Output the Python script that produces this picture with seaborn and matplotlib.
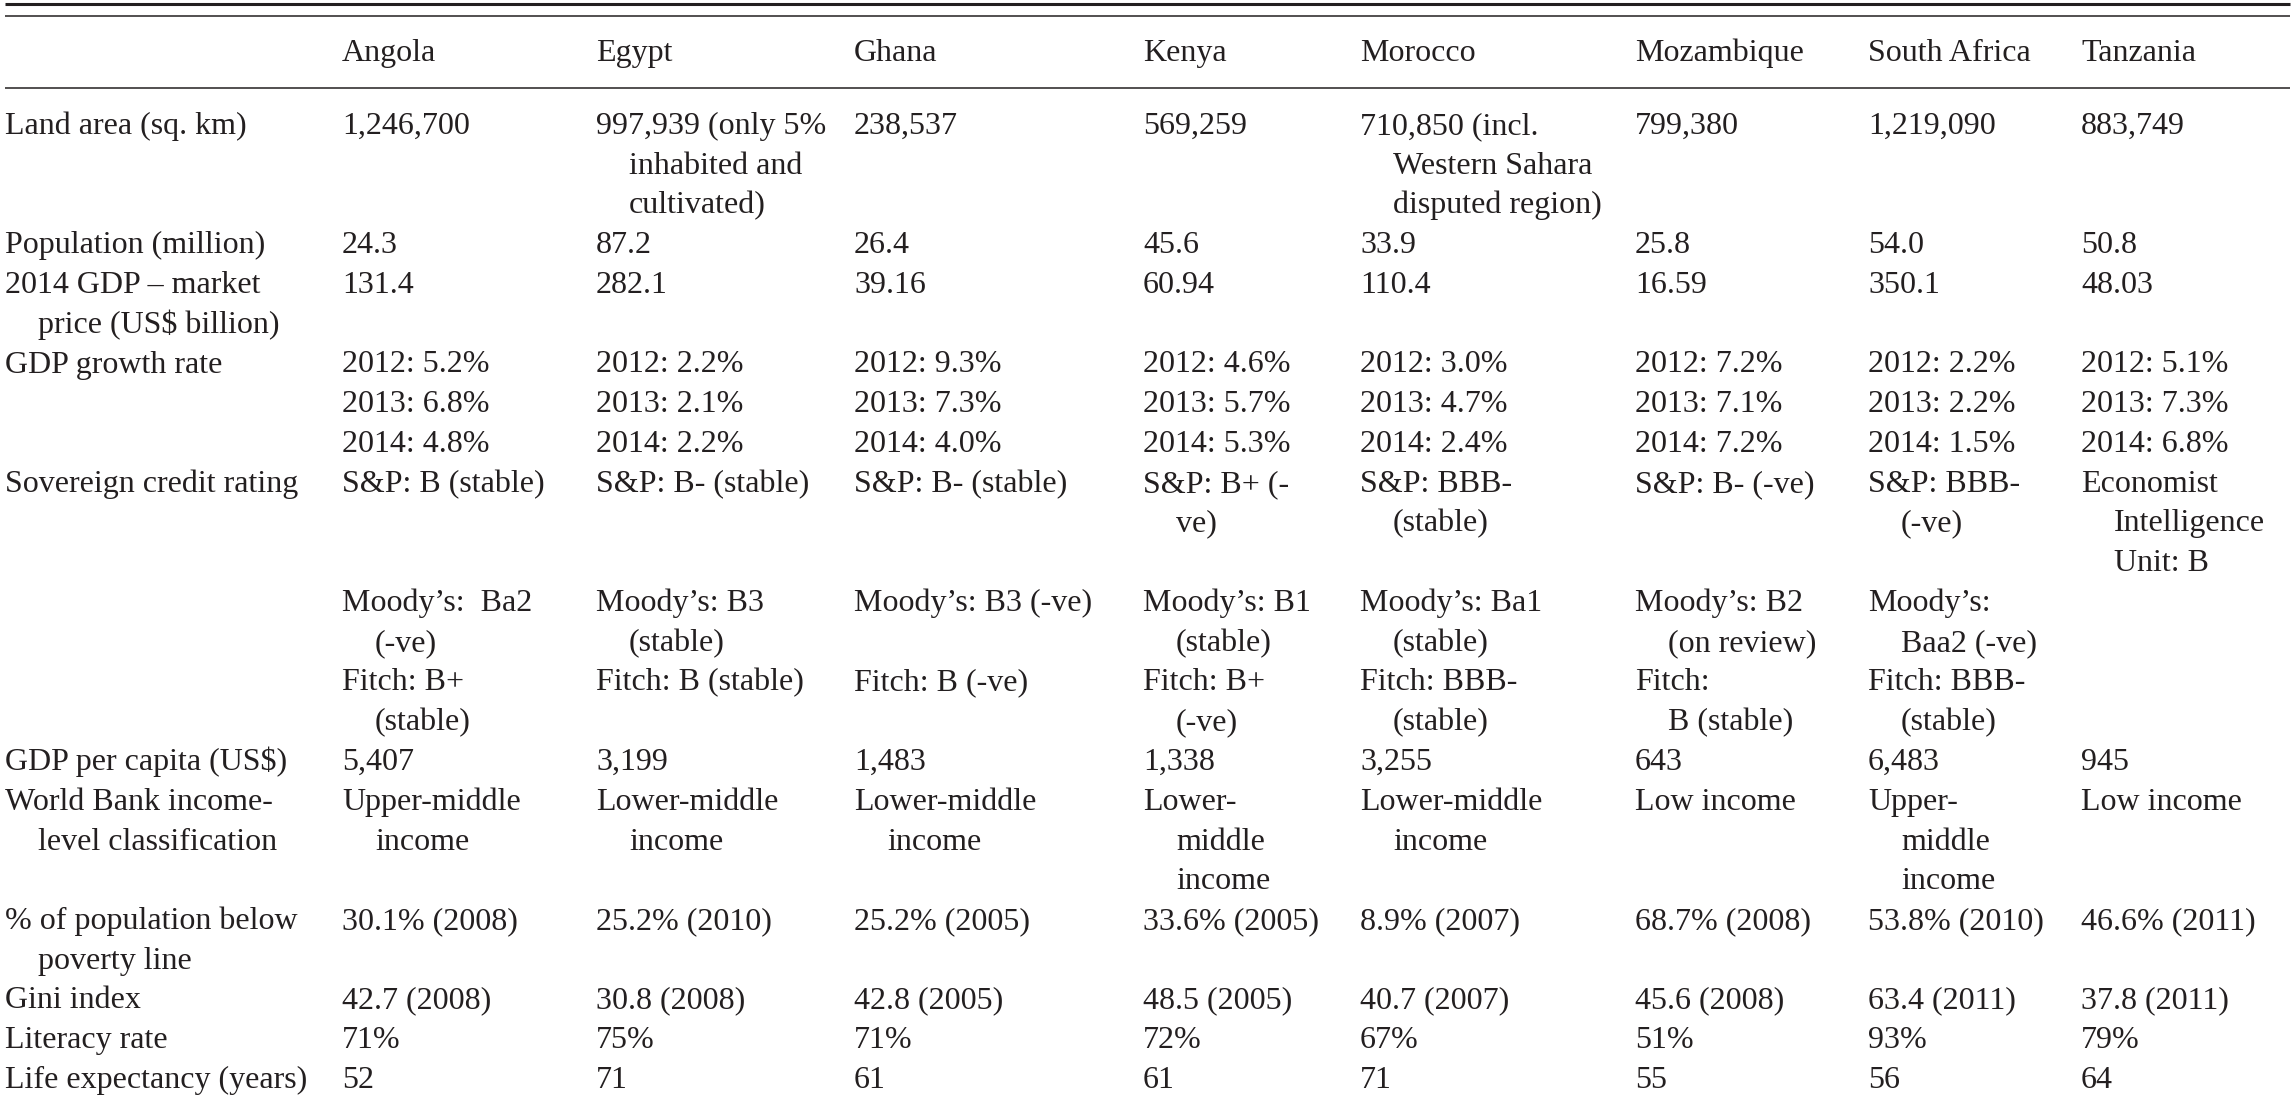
import matplotlib.pyplot as plt
import seaborn as sns

sns.set_theme(style="white")
plt.rcParams['font.family'] = ['Liberation Serif', 'DejaVu Serif']

# table content ("\n" marks where the printed cell wraps)
countries = ["Angola", "Egypt", "Ghana", "Kenya", "Morocco", "Mozambique",
             "South Africa", "Tanzania"]

land_area = ["1,246,700", "997,939 (only 5%\ninhabited and\ncultivated)", "238,537",
             "569,259", "710,850 (incl.\nWestern Sahara\ndisputed region)", "799,380",
             "1,219,090", "883,749"]
population = ["24.3", "87.2", "26.4", "45.6", "33.9", "25.8", "54.0", "50.8"]
gdp_2014 = ["131.4", "282.1", "39.16", "60.94", "110.4", "16.59", "350.1", "48.03"]
growth_2012 = [5.2, 2.2, 9.3, 4.6, 3.0, 7.2, 2.2, 5.1]
growth_2013 = [6.8, 2.1, 7.3, 5.7, 4.7, 7.1, 2.2, 7.3]
growth_2014 = [4.8, 2.2, 4.0, 5.3, 2.4, 7.2, 1.5, 6.8]
sp_rating = ["S&P: B (stable)", "S&P: B- (stable)", "S&P: B- (stable)", "S&P: B+ (-\nve)",
             "S&P: BBB-\n(stable)", "S&P: B- (-ve)", "S&P: BBB-\n(-ve)",
             "Economist\nIntelligence\nUnit: B"]
moodys_rating = ["Moody\u2019s:  Ba2\n(-ve)", "Moody\u2019s: B3\n(stable)",
                 "Moody\u2019s: B3 (-ve)", "Moody\u2019s: B1\n(stable)",
                 "Moody\u2019s: Ba1\n(stable)", "Moody\u2019s: B2\n(on review)",
                 "Moody\u2019s:\nBaa2 (-ve)", ""]
fitch_rating = ["Fitch: B+\n(stable)", "Fitch: B (stable)", "Fitch: B (-ve)", "Fitch: B+\n(-ve)",
                "Fitch: BBB-\n(stable)", "Fitch:\nB (stable)", "Fitch: BBB-\n(stable)", ""]
gdp_per_capita = ["5,407", "3,199", "1,483", "1,338", "3,255", "643", "6,483", "945"]
income_level = ["Upper-middle\nincome", "Lower-middle\nincome", "Lower-middle\nincome",
                "Lower-\nmiddle\nincome", "Lower-middle\nincome", "Low income",
                "Upper-\nmiddle\nincome", "Low income"]
poverty = ["30.1% (2008)", "25.2% (2010)", "25.2% (2005)", "33.6% (2005)", "8.9% (2007)",
           "68.7% (2008)", "53.8% (2010)", "46.6% (2011)"]
gini = ["42.7 (2008)", "30.8 (2008)", "42.8 (2005)", "48.5 (2005)", "40.7 (2007)",
        "45.6 (2008)", "63.4 (2011)", "37.8 (2011)"]
literacy = ["71%", "75%", "71%", "72%", "67%", "51%", "93%", "79%"]
life_expectancy = ["52", "71", "61", "61", "71", "55", "56", "64"]

growth = ["2012: %.1f%%\n2013: %.1f%%\n2014: %.1f%%" % v
          for v in zip(growth_2012, growth_2013, growth_2014)]

# (row label, cells, wrapped lines get a hanging indent)
rows = [
    ("Land area (sq. km)", land_area, True),
    ("Population (million)", population, True),
    ("2014 GDP \u2013 market\nprice (US$ billion)", gdp_2014, True),
    ("GDP growth rate", growth, False),
    ("Sovereign credit rating", sp_rating, True),
    ("", moodys_rating, True),
    ("", fitch_rating, True),
    ("GDP per capita (US$)", gdp_per_capita, True),
    ("World Bank income-\nlevel classification", income_level, True),
    ("% of population below\npoverty line", poverty, True),
    ("Gini index", gini, True),
    ("Literacy rate", literacy, True),
    ("Life expectancy (years)", life_expectancy, True),
]

# layout (pixels)
W, H = 2292, 1100
col_x = [5, 342, 596, 854, 1143, 1360, 1635, 1868, 2081]
indent = 33
first_line = 125
line_h = 39.75
base_off = 9
fs = 23
ink = "#231f20"

fig = plt.figure(figsize=(W / 100, H / 100), dpi=100)
ax = fig.add_axes([0, 0, 1, 1])
ax.set_xlim(0, W)
ax.set_ylim(H, 0)
ax.axis("off")


def draw_cell(x, line_idx, text, hang=True):
    for k, part in enumerate(text.split("\n")):
        y = first_line + (line_idx + k) * line_h + base_off
        dx = indent if (k and hang) else 0
        ax.text(x + dx, y, part, fontsize=fs, color=ink, va="baseline", ha="left")


# rules
ax.hlines(4, 5, 2290, color=ink, lw=2.2)
ax.hlines(15.5, 5, 2290, color=ink, lw=1.1)
ax.hlines(88, 5, 2290, color=ink, lw=1.1)

# header
for x, name in zip(col_x[1:], countries):
    ax.text(x, 52 + base_off, name, fontsize=fs, color=ink, va="baseline", ha="left")

# body
line = 0
for label, values, hang in rows:
    draw_cell(col_x[0], line, label)
    for x, v in zip(col_x[1:], values):
        if v:
            draw_cell(x, line, v, hang)
    line += max(t.count("\n") + 1 for t in [label] + list(values))

fig.savefig("out.png", dpi=100, facecolor="white")
